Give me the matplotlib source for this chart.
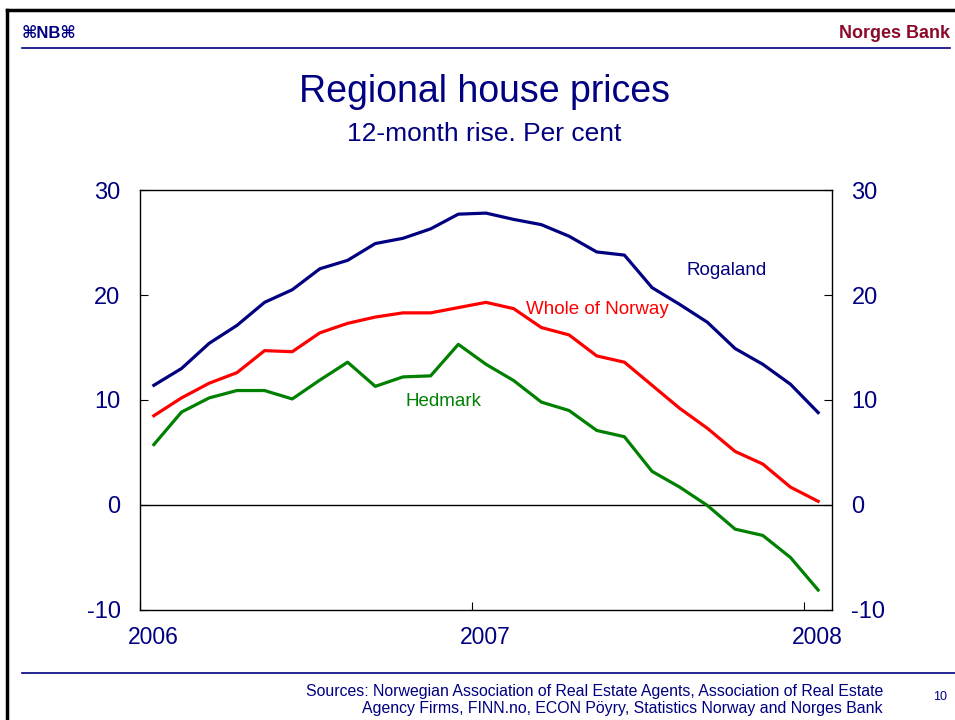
import matplotlib.pyplot as plt
import numpy as np

plt.rcParams['font.family'] = ['Liberation Sans', 'DejaVu Sans']

NAVY = '#000080'

# monthly 12-month rise, Jan 2006 - Jan 2008
rogaland = [11.4, 13.0, 15.4, 17.1, 19.3, 20.5, 22.5, 23.3, 24.9, 25.4, 26.3, 27.7, 27.8,
            27.2, 26.7, 25.6, 24.1, 23.8, 20.7, 19.1, 17.4, 14.9, 13.4, 11.5, 8.8]
norway = [8.5, 10.2, 11.6, 12.6, 14.7, 14.6, 16.4, 17.3, 17.9, 18.3, 18.3, 18.8, 19.3,
          18.7, 16.9, 16.2, 14.2, 13.6, 11.4, 9.2, 7.3, 5.1, 3.9, 1.7, 0.35]
hedmark = [5.75, 8.85, 10.2, 10.9, 10.9, 10.1, 11.9, 13.6, 11.3, 12.2, 12.3, 15.3, 13.4,
           11.85, 9.8, 9.0, 7.1, 6.5, 3.2, 1.7, -0.05, -2.3, -2.9, -5.0, -8.1]
years = [2006, 2007, 2008]
yticks = [-10, 0, 10, 20, 30]

months = 2006 + (np.arange(len(rogaland)) + 0.5) / 12

fig = plt.figure(figsize=(9.55, 7.2), dpi=100)
ax = fig.add_axes([0.1466, 0.1528, 0.7246, 0.5833])

ax.axhline(0, color='black', lw=1.0)
ax.plot(months, rogaland, color=NAVY, lw=2.3)
ax.plot(months, norway, color='#ff0000', lw=2.3)
ax.plot(months, hedmark, color='#008000', lw=2.3)

ax.text(2007.765, 22.3, 'Rogaland', color=NAVY, fontsize=13.5, ha='center', va='center')
ax.text(2007.376, 18.6, 'Whole of Norway', color='#ff0000', fontsize=13.5, ha='center', va='center')
ax.text(2006.913, 9.9, 'Hedmark', color='#008000', fontsize=13.5, ha='center', va='center')

ax.set_xlim(2006, 2008 + 1 / 12)
ax.set_ylim(-10, 30)
ax.set_yticks(yticks)
ax.set_yticklabels([str(v) for v in yticks])
ax.tick_params(axis='y', direction='in', length=6, labelsize=17, labelcolor=NAVY,
               right=True, labelright=True, pad=14)
ax.set_xticks(years)
ax.set_xticklabels([])
ax.tick_params(axis='x', direction='in', length=6)
for yr in years:
    ax.text(yr + 0.04, -12.6, str(yr), fontsize=16.5, color=NAVY, ha='center', va='center')
for s in ax.spines.values():
    s.set_linewidth(1.0)

fig.text(0.507, 1 - 92 / 720, 'Regional house prices', fontsize=27, color=NAVY,
         ha='center', va='center')
fig.text(0.507, 1 - 134 / 720, '12-month rise. Per cent', fontsize=19, color=NAVY,
         ha='center', va='center')

# slide frame
fig.add_artist(plt.Line2D([7 / 955, 1], [1 - 10 / 720] * 2, color='black', lw=2.5))
fig.add_artist(plt.Line2D([7 / 955] * 2, [0, 1 - 10 / 720], color='black', lw=2.5))
fig.add_artist(plt.Line2D([22 / 955, 950 / 955], [1 - 48 / 720] * 2, color=NAVY, lw=1.2))
fig.add_artist(plt.Line2D([22 / 955, 1], [1 - 673 / 720] * 2, color=NAVY, lw=1.2))

fig.text(22 / 955, 1 - 33 / 720, '⌘NB⌘', fontsize=12, color=NAVY, fontweight='bold',
         ha='left', va='center')
fig.text(950 / 955, 1 - 33 / 720, 'Norges Bank', fontsize=13, color='#8b0a2a',
         fontweight='bold', ha='right', va='center')
fig.text(883 / 955, 1 - 700 / 720,
         'Sources: Norwegian Association of Real Estate Agents, Association of Real Estate\n'
         'Agency Firms, FINN.no, ECON Pöyry, Statistics Norway and Norges Bank',
         fontsize=11.4, color=NAVY, ha='right', va='center', multialignment='right',
         linespacing=1.2)
fig.text(940 / 955, 1 - 697 / 720, '10', fontsize=9, color=NAVY, ha='center', va='center')

fig.savefig('out.png', dpi=100)
